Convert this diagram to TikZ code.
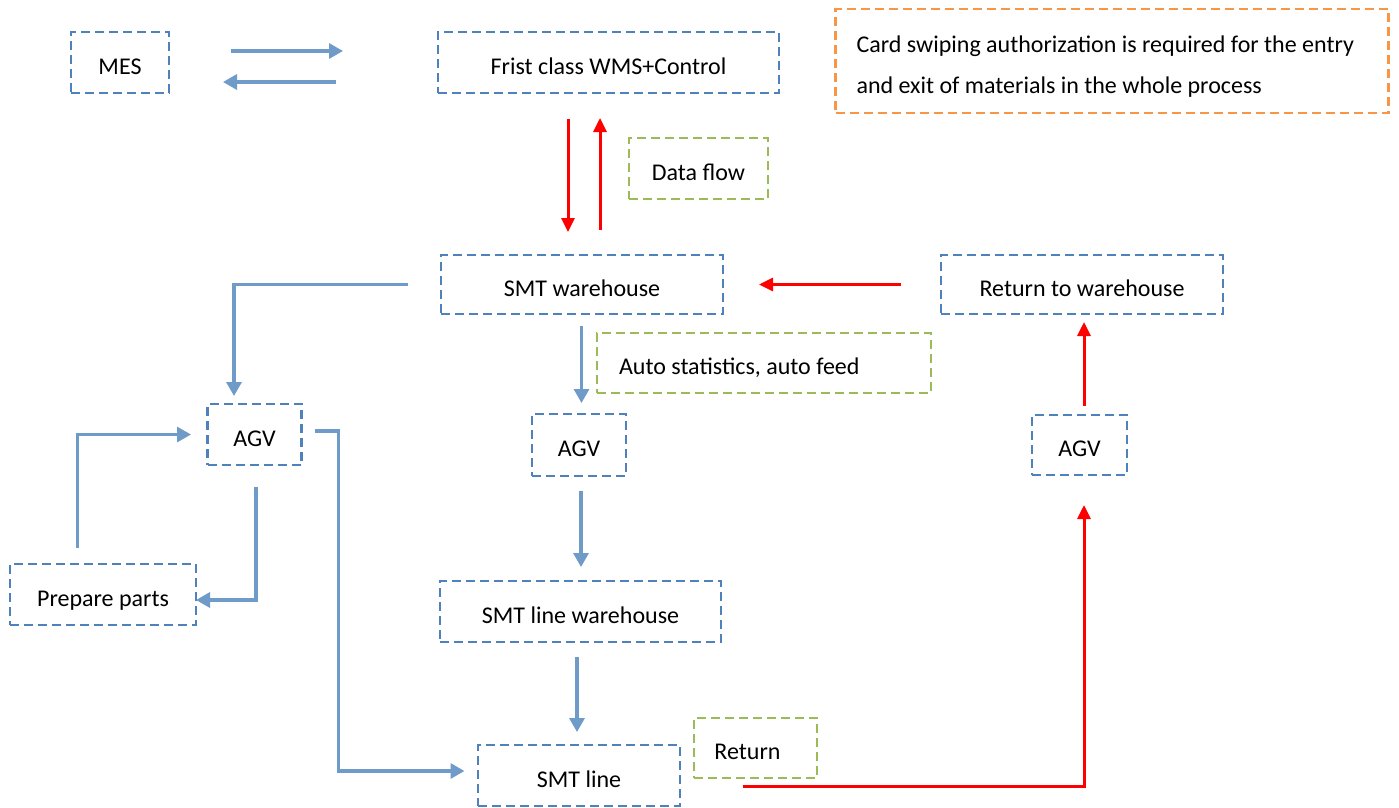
\documentclass[tikz,border=0pt]{standalone}
\usepackage{fontspec}
\setmainfont{Carlito}
\usetikzlibrary{arrows.meta,calc}
\definecolor{boxblue}{HTML}{4F81BD}
\definecolor{arrblue}{HTML}{6F9BC8}
\definecolor{boxgreen}{HTML}{9BBB59}
\definecolor{boxorange}{HTML}{F79646}
\begin{document}
\begin{tikzpicture}[x=1pt,y=-1pt,
  box/.style={draw=boxblue, line width=2.4pt, dash pattern=on 9pt off 5pt, inner sep=0pt, outer sep=0pt, font=\fontsize{24}{28}\selectfont, text=black, text height=23pt, text depth=0pt},
  gbox/.style={box, draw=boxgreen},
  obox/.style={box, draw=boxorange},
  bflow/.style={draw=arrblue, line width=3.2pt, -{Triangle[length=14pt,width=15pt]}},
  rflow/.style={draw=red, line width=3pt, -{Triangle[length=14pt,width=13pt]}}]
\useasboundingbox (0,0) rectangle (1399,807);
\fill[white] (0,0) rectangle (1399,807);
% nodes
\node[box, minimum width=98pt, minimum height=61pt] (mes) at (120,62.5) {MES};
\node[box, minimum width=341pt, minimum height=61pt] (wms) at (608.5,62.5) {Frist class WMS+Control};
\node[gbox, minimum width=139pt, minimum height=61pt] (data) at (698.5,168.5) {Data flow};
\node[obox, minimum width=553pt, minimum height=104pt, text width=511pt, inner xsep=21pt, align=flush left, font=\fontsize{24}{41}\selectfont, text height=23pt, text depth=41pt] (note) at (1112,61) {Card swiping authorization is required for the entry\\and exit of materials in the whole process};
\node[box, minimum width=282pt, minimum height=59pt] (smtw) at (582,284.5) {SMT warehouse};
\node[box, minimum width=282pt, minimum height=59pt] (ret) at (1082,284.5) {Return to warehouse};
\node[gbox, minimum width=334pt, minimum height=60pt, text width=290pt, inner xsep=22pt, align=flush left] (auto) at (764,363) {Auto statistics, auto feed};
\node[box, minimum width=94pt, minimum height=61pt] (agv1) at (254.5,434.5) {AGV};
\node[box, minimum width=94pt, minimum height=62pt] (agv2) at (579,445) {AGV};
\node[box, minimum width=95pt, minimum height=60pt] (agv3) at (1079.5,445) {AGV};
\node[box, minimum width=186pt, minimum height=61pt] (prep) at (103,594.5) {Prepare parts};
\node[box, minimum width=281pt, minimum height=61pt] (smtlw) at (580.5,611.5) {SMT line warehouse};
\node[box, minimum width=202pt, minimum height=61pt] (smtl) at (579,775.5) {SMT line};
\node[gbox, minimum width=123pt, minimum height=60pt] (retn) at (755.5,748) {Return\hspace*{16pt}};
% connectors
\draw[bflow] ($(mes.east)+(62,-11.5)$) -- ($(wms.west)+(-95,-11.5)$);
\draw[bflow] ($(wms.west)+(-102,19.5)$) -- ($(mes.east)+(54,19.5)$);
\draw[rflow] ($(wms.south)+(-40.5,26)$) -- ($(smtw.north)+(-14,-23)$);
\draw[rflow] ($(smtw.north)+(18,-25)$) -- ($(wms.south)+(-8.5,25)$);
\draw[bflow] ($(smtw.west)+(-33,0)$) -| ($(agv1.north)+(-20.5,-8)$);
\draw[rflow] ($(ret.west)+(-40,0)$) -- ($(smtw.east)+(36,0)$);
\draw[rflow] ($(agv3.north)+(4.5,-9)$) -- ($(ret.south)+(2,8)$);
\draw[rflow] ($(smtl.east)+(62.5,10.5)$) -| ($(agv3.south)+(4.5,30)$);
\draw[bflow] ($(smtw.south)+(-0.5,12)$) -- ($(agv2.north)+(2.5,-11)$);
\draw[bflow] ($(agv2.south)+(2,15)$) -- ($(smtlw.north)+(0.5,-14)$);
\draw[bflow] ($(smtlw.south)+(-3.5,15)$) -- ($(smtl.north)+(-2,-13)$);
\draw[bflow] ($(prep.north)+(-25.5,-16)$) |- ($(agv1.west)+(-16.5,0)$);
\draw[bflow] ($(agv1.south)+(1.5,22)$) |- ($(prep.east)+(0,5.5)$);
\draw[bflow] ($(agv1.east)+(13,-3.5)$) -- ++(24,0) |- ($(smtl.west)+(-13.5,-4.5)$);
\end{tikzpicture}
\end{document}
